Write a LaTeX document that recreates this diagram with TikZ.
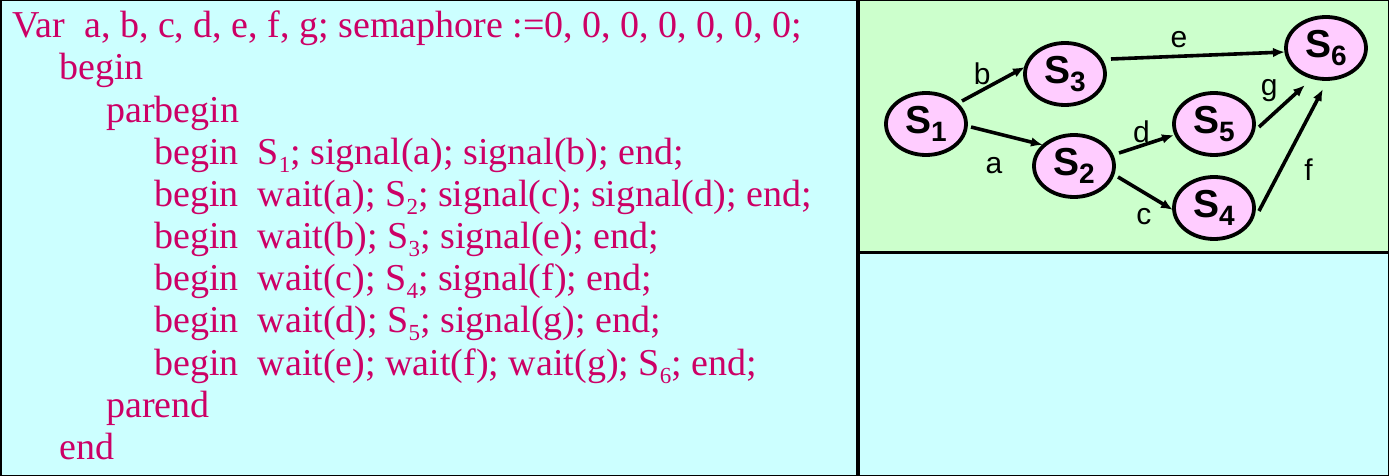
\documentclass[tikz,border=0pt]{standalone}
\usepackage{fontspec}
\setmainfont{Liberation Serif}
\newfontfamily\arialfont{Liberation Sans}
\usetikzlibrary{shapes.geometric,arrows.meta}
\definecolor{codecolor}{RGB}{204,0,102}
\definecolor{cyanbg}{RGB}{204,255,255}
\definecolor{greenbg}{RGB}{204,255,204}
\definecolor{pinkfill}{RGB}{255,204,255}
\newcommand{\codesub}[1]{\raisebox{-4pt}{\fontsize{11.5}{11.5}\selectfont #1}}
\newcommand{\procname}[1]{\textbf{S}\raisebox{-4pt}{\fontsize{14}{14}\selectfont\bfseries #1}}
\tikzset{
  panel/.style={draw=black, line width=1.5pt},
  codeline/.style={anchor=base west, inner sep=0pt, text=codecolor, font=\fontsize{19}{21}\selectfont},
  proc/.style={ellipse, draw, line width=1.9pt, fill=pinkfill, minimum width=40pt, minimum height=31pt, inner sep=0pt, font=\arialfont\fontsize{19.5}{19.5}\selectfont},
  lbl/.style={font=\arialfont\fontsize{15}{15}\selectfont, inner sep=0pt},
  flow/.style={-{Latex[length=6pt,width=4.8pt]}, line width=1.8pt}
}
\begin{document}
\begin{tikzpicture}[x=0.5pt,y=-0.5pt]
          \useasboundingbox (0,0) rectangle (1389,476);
          % panels
          \draw[panel, fill=cyanbg] (0,0) rectangle (857,476);
          \draw[panel, fill=greenbg] (858,0) rectangle (1389,253);
          \draw[panel, fill=cyanbg] (858,253) rectangle (1389,476);
          % program text
          \draw (12,38) node[codeline](varline){Var\ \ a, b, c, d, e, f, g; semaphore :=0, 0, 0, 0, 0, 0, 0;};
          \draw (59,80) node[codeline](outerbegin){begin};
          \draw (106,123) node[codeline](parbeginline){parbegin};
          \draw (154,165) node[codeline](taskone){begin\ \ S\codesub{1}; signal(a); signal(b); end;};
          \draw (154,207) node[codeline](tasktwo){begin\ \ wait(a); S\codesub{2}; signal(c); signal(d); end;};
          \draw (154,249) node[codeline](taskthree){begin\ \ wait(b); S\codesub{3}; signal(e); end;};
          \draw (154,291) node[codeline](taskfour){begin\ \ wait(c); S\codesub{4}; signal(f); end;};
          \draw (154,333) node[codeline](taskfive){begin\ \ wait(d); S\codesub{5}; signal(g); end;};
          \draw (154,375) node[codeline](tasksix){begin\ \ wait(e); wait(f); wait(g); S\codesub{6}; end;};
          \draw (106,417) node[codeline](parendline){parend};
          \draw (59,459) node[codeline](outerend){end};
          % precedence graph
          \node[proc] (s1) at (926,124) {\procname{1}};
          \node[proc] (s3) at (1065,74) {\procname{3}};
          \node[proc] (s2) at (1074,166) {\procname{2}};
          \node[proc] (s5) at (1214,124) {\procname{5}};
          \node[proc] (s4) at (1214,208) {\procname{4}};
          \node[proc] (s6) at (1326,48) {\procname{6}};
          \draw[flow] ([shift={(36,-23)}]s1.center) -- ([shift={(-40,-7)}]s3.center) node[lbl, pos=0.32, above=2pt]{b};
          \draw[flow] ([shift={(45,3)}]s1.center) -- ([shift={(-31,-21)}]s2.center) node[lbl, pos=0.32, below=11.3pt]{a};
          \draw[flow] ([shift={(46,-15)}]s3.center) -- ([shift={(-41,4)}]s6.center) node[lbl, pos=0.39, above=3.5pt]{e};
          \draw[flow] ([shift={(45,-13)}]s2.center) -- ([shift={(-40,11)}]s5.center) node[lbl, pos=0.41, above=0.5pt]{d};
          \draw[flow] ([shift={(44,11)}]s2.center) -- ([shift={(-41,2)}]s4.center) node[lbl, pos=0.47, below=6.9pt]{c};
          \draw[flow] ([shift={(45,3)}]s5.center) -- ([shift={(-21,37)}]s6.center) node[lbl, pos=0.22, above=6.9pt]{g};
          \draw[flow] ([shift={(45,3)}]s4.center) -- ([shift={(-3,41)}]s6.center) node[lbl, pos=0.34, right=10.9pt]{f};
        \end{tikzpicture}
\end{document}
